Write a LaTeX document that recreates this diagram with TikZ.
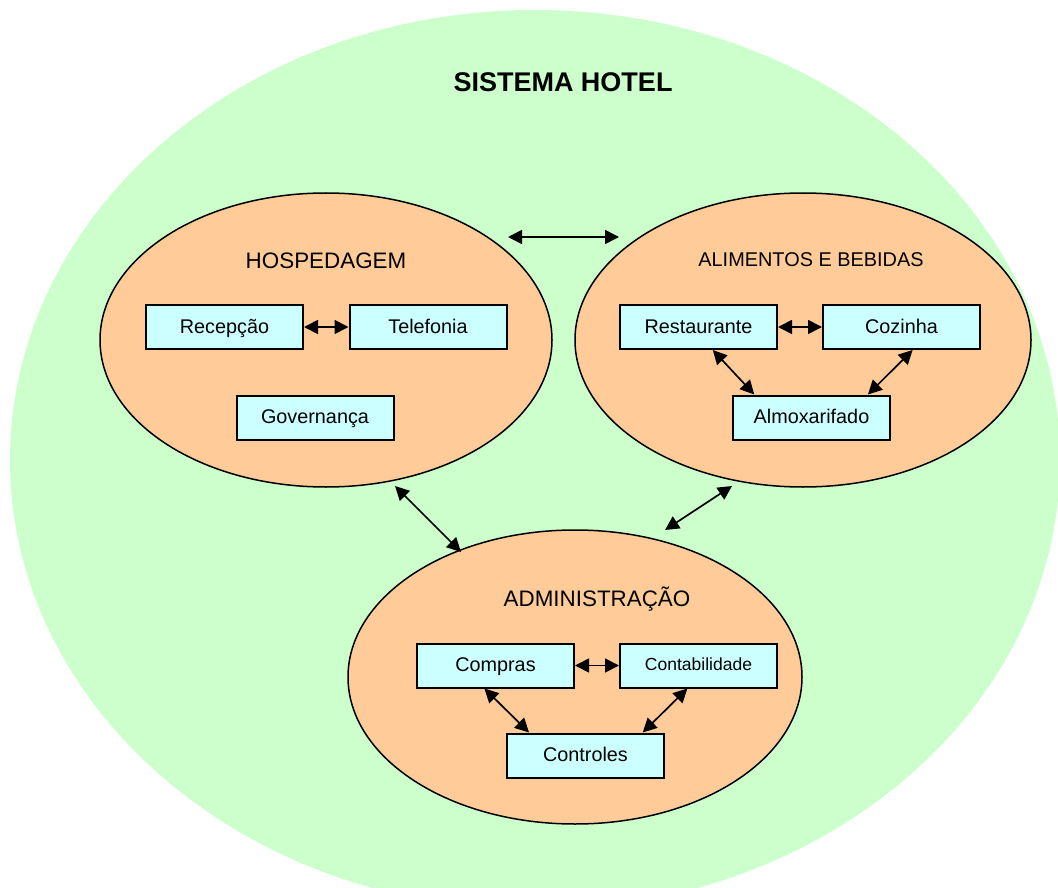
\documentclass[tikz,border=0pt]{standalone}
\usepackage{fontspec}
\setmainfont{Liberation Sans}
\usetikzlibrary{shapes.geometric,arrows.meta,calc}
\definecolor{hotelgreen}{HTML}{CCFFCC}
\definecolor{sectororange}{HTML}{FFCC99}
\definecolor{unitcyan}{HTML}{CCFFFF}

\begin{document}
\begin{tikzpicture}[x=1pt,y=1pt,
  sector/.style={ellipse, draw=black, line width=1.5pt, fill=sectororange,
    inner sep=0pt, minimum height=294pt},
  unit/.style={rectangle, draw=black, line width=2pt, fill=unitcyan,
    minimum width=157pt, minimum height=44pt, inner sep=0pt,
    text height=12.5pt, text depth=0pt,
    font=\fontsize{19.8}{24}\selectfont},
  link/.style={{Triangle[length=14pt,width=14pt]}-{Triangle[length=14pt,width=14pt]},
    line width=1.7pt},
  sectorlabel/.style={anchor=base, font=\fontsize{22.4}{26}\selectfont}]

\useasboundingbox (0,0) rectangle (1058,-888);
\clip (0,0) rectangle (1058,-888);

% whole system
\fill[hotelgreen] (535,-460) ellipse [x radius=525, y radius=450];
\node[anchor=base, font=\fontsize{27}{32}\selectfont\bfseries] (title) at (563,-92) {SISTEMA HOTEL};

% sectors
\node[sector, minimum width=452pt] (hosp) at (326,-340) {};
\node[sector, minimum width=456pt] (alim) at (803,-340) {};
\node[sector, minimum width=454pt] (adm) at (575,-677) {};

\node[sectorlabel] (hospl) at (326,-268) {HOSPEDAGEM};
\node[sectorlabel, font=\fontsize{19.9}{24}\selectfont] (aliml) at (811,-266) {ALIMENTOS E BEBIDAS};
\node[sectorlabel] (adml) at (597,-606) {ADMINISTRAÇÃO};

% units
\node[unit] (rec) at (224.5,-327) {Recepção};
\node[unit] (tel) at (428,-327) {Telefonia};
\node[unit] (gov) at (315,-417.5) {Governança};

\node[unit] (res) at (698.5,-327) {Restaurante};
\node[unit] (coz) at (901.5,-327) {Cozinha};
\node[unit] (alm) at (811.5,-417.5) {Almoxarifado};

\node[unit] (com) at (495.5,-665.5) {Compras};
\node[unit, font=\fontsize{17.5}{21}\selectfont, text height=9pt] (con) at (698.5,-665.5) {Contabilidade};
\node[unit] (ctl) at (585.5,-755.5) {Controles};

% links between units
\draw[link] (rec.east) -- (tel.west);
\draw[link] (res.east) -- (coz.west);
\draw[link] ($(res.south west)!0.59!(res.south east)$) -- ($(alm.north west)!0.14!(alm.north east)$);
\draw[link] ($(coz.south west)!0.57!(coz.south east)$) -- ($(alm.north west)!0.855!(alm.north east)$);
\draw[link] (com.east) -- (con.west);
\draw[link] ($(com.south west)!0.43!(com.south east)$) -- ($(ctl.north west)!0.145!(ctl.north east)$);
\draw[link] ($(con.south west)!0.43!(con.south east)$) -- ($(ctl.north west)!0.86!(ctl.north east)$);

% links between sectors
\coordinate (ha1) at (508,-237);
\coordinate (ha2) at (619,-237);
\coordinate (hd1) at (395,-486);
\coordinate (hd2) at (461,-552);
\coordinate (ad1) at (732,-486);
\coordinate (ad2) at (665,-530);
\draw[link] (ha1) -- (ha2);
\draw[link] (hd1) -- (hd2);
\draw[link] (ad1) -- (ad2);
\end{tikzpicture}
\end{document}
